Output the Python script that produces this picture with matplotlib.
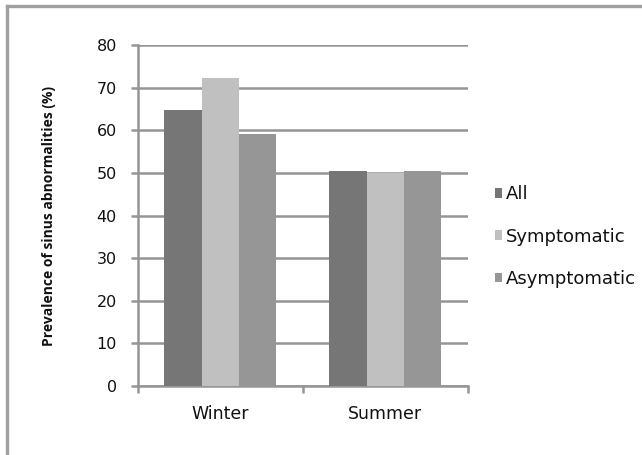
import matplotlib
matplotlib.use("Agg")
import matplotlib.pyplot as plt
import numpy as np
from matplotlib.lines import Line2D
from matplotlib import font_manager

categories = ["Winter", "Summer"]
series_names = ["All", "Symptomatic", "Asymptomatic"]
all_vals = [64.9, 50.4]
symptomatic_vals = [72.4, 50.0]
asymptomatic_vals = [59.2, 50.4]
yticks = [0, 10, 20, 30, 40, 50, 60, 70, 80]
colors = ["#767676", "#c0c0c0", "#969696"]

plt.rcParams['font.family'] = ['DejaVu Sans']

names = {f.name for f in font_manager.fontManager.ttflist}
ylab_family = ['Liberation Sans Narrow', 'Open Sans'] if 'Liberation Sans Narrow' in names else ['Open Sans']
ylab_size = 12 if 'Liberation Sans Narrow' in names else 10

W, H = 642, 455
fig = plt.figure(figsize=(W / 100, H / 100), dpi=100)
ax = fig.add_axes([137.7 / W, 1 - 385.7 / H, (467.7 - 137.7) / W, (385.7 - 45.3) / H])

x = np.arange(len(categories))
bw = 0.2255
grid_c = "#959595"
for i, (vals, name) in enumerate(zip([all_vals, symptomatic_vals, asymptomatic_vals], series_names)):
    ax.bar(x + (i - 1) * bw, vals, width=bw, color=colors[i], label=name, zorder=3)

ax.set_xlim(-0.5, 1.5)
ax.set_ylim(0, 80)
ax.set_yticks(yticks)
ax.set_yticklabels([str(t) for t in yticks], fontsize=11.5, color="#111111")
ax.yaxis.grid(True, color=grid_c, linewidth=1.8, zorder=0)
ax.set_axisbelow(True)

ax.set_xticks(x)
ax.set_xticklabels(categories, fontsize=12.5, color="#111111")
ax.tick_params(axis='x', length=0, pad=14)
ax.set_xticks([-0.5, 0.5, 1.5], minor=True)
ax.tick_params(axis='x', which='minor', length=5, width=1.8, color=grid_c, direction='out')
ax.tick_params(axis='y', length=5, width=1.8, color=grid_c, direction='out', pad=10)

for s in ['top', 'right']:
    ax.spines[s].set_visible(False)
for s in ['left', 'bottom']:
    ax.spines[s].set_color(grid_c)
    ax.spines[s].set_linewidth(1.8)

fig.text(49 / W, 1 - 216 / H, "Prevalence of sinus abnormalities (%)", rotation=90,
         ha='center', va='center', fontsize=ylab_size, fontweight='bold', color="#111111",
         family=ylab_family)

leg = ax.legend(loc='center left', bbox_to_anchor=(486 / W, 1 - 236.5 / H),
                bbox_transform=fig.transFigure, frameon=False, fontsize=13,
                handlelength=0.4, handleheight=0.4, handletextpad=0.2,
                labelspacing=1.33, borderpad=0)
for t in leg.get_texts():
    t.set_color("#111111")

fig.add_artist(Line2D([6.5 / W, 1.0], [1 - 5.5 / H, 1 - 5.5 / H], transform=fig.transFigure,
                      color="#a0a0a0", linewidth=2.4))
fig.add_artist(Line2D([6.5 / W, 6.5 / W], [0, 1 - 5.5 / H], transform=fig.transFigure,
                      color="#a0a0a0", linewidth=2.4))

fig.savefig("out.png", dpi=100, facecolor="white")
